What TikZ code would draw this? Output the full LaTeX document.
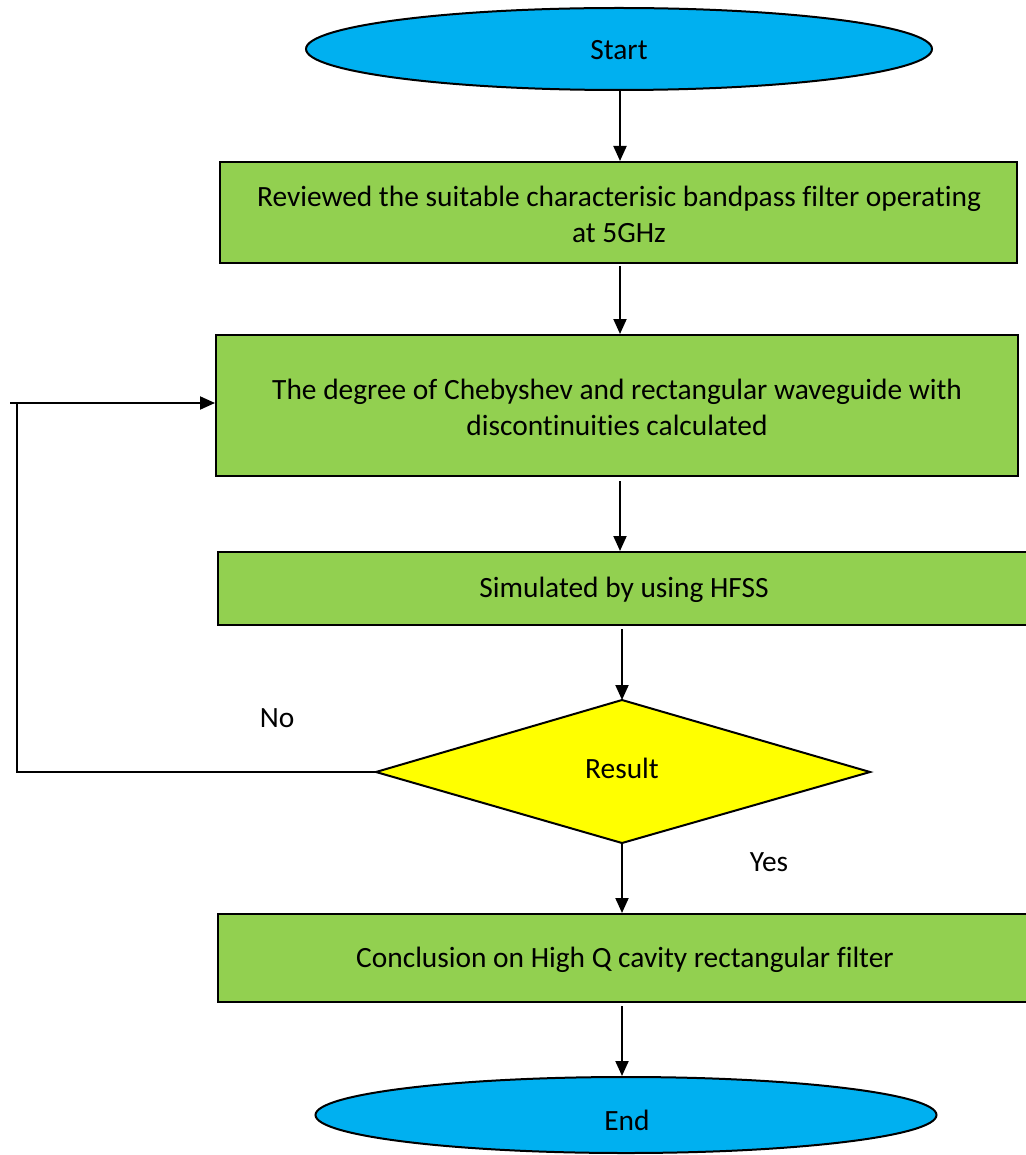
\documentclass[tikz,border=0pt]{standalone}
\usepackage{fontspec}
\setmainfont{Carlito}[Ligatures={NoCommon}]
\usetikzlibrary{shapes.geometric,arrows.meta}
\definecolor{ovalblue}{HTML}{00B0F0}
\definecolor{boxgreen}{HTML}{92D050}
\definecolor{diayellow}{HTML}{FFFF00}
\tikzset{
  oval/.style={ellipse, draw=black, line width=2pt, fill=ovalblue, inner sep=0pt},
  stepbox/.style={rectangle, draw=black, line width=2pt, fill=boxgreen, inner sep=0pt, align=center},
  decision/.style={draw=black, line width=2pt, fill=diayellow},
  flow/.style={line width=2pt, -{Triangle[length=15pt,width=13pt]}},
  loopline/.style={line width=1.4pt},
  lbl/.style={font=\fontsize{29.4}{36}\selectfont, inner sep=0pt},
}
\begin{document}
\begin{tikzpicture}[x=1pt,y=-1pt]
\useasboundingbox (0,0) rectangle (1025,1155);
\coordinate (colA) at (620,0);
\coordinate (colB) at (622,0);
% ovals
\node[oval, minimum width=626pt, minimum height=82pt] (start) at (619,49) {};
\node[lbl] at (619,50) {Start};
\node[oval, minimum width=621pt, minimum height=76pt] (end) at (626,1115) {};
\node[lbl] at (627,1120) {End};
% boxes
\node[stepbox, minimum width=797pt, minimum height=101pt] (b1) at (618.5,212.5) {};
\node[lbl, align=center] at (619,214) {Reviewed the suitable characterisic bandpass filter operating\\at 5GHz};
\node[stepbox, minimum width=802pt, minimum height=141pt] (b2) at (617,405.5) {};
\node[lbl, align=center] at (617,407) {The degree of Chebyshev and rectangular waveguide with\\discontinuities calculated};
\node[stepbox, minimum width=810pt, minimum height=73pt] (b3) at (623,588.5) {};
\node[lbl] at (624,590) {Simulated by using HFSS};
\node[stepbox, minimum width=810pt, minimum height=88pt] (b4) at (623,958) {};
\node[lbl] at (625,960) {Conclusion on High Q cavity rectangular filter};
% diamond
\draw[decision] (622,700) coordinate (dtop) -- (870,772) coordinate (dright) -- (622,843) coordinate (dbot) -- (376,772) coordinate (dleft) -- cycle;
\node[lbl] (res) at (622,768) {Result};
% connectors
\draw[flow] (start.south -| colA) -- (b1.north -| colA);
\draw[flow] ([yshift=-2pt]b1.south -| colA) -- (b2.north -| colA);
\draw[flow] ([yshift=-4pt]b2.south -| colA) -- (b3.north -| colA);
\draw[flow] ([yshift=-3pt]b3.south -| colB) -- (dtop);
\draw[flow] (dbot) -- (b4.north -| colB);
\draw[flow] ([yshift=-3pt]b4.south -| colB) -- (end.north -| colB);
% loop back
\coordinate (lc) at (17,772);
\coordinate (tc) at (17,403);
\coordinate (tl) at (10,403);
\draw[loopline] (dleft) -- (lc) -- (tc);
\draw[flow] (tl) -- (b2.west |- tl);
% labels
\node[lbl] at (277,718) {No};
\node[lbl] at (769,862) {Yes};
\end{tikzpicture}
\end{document}
